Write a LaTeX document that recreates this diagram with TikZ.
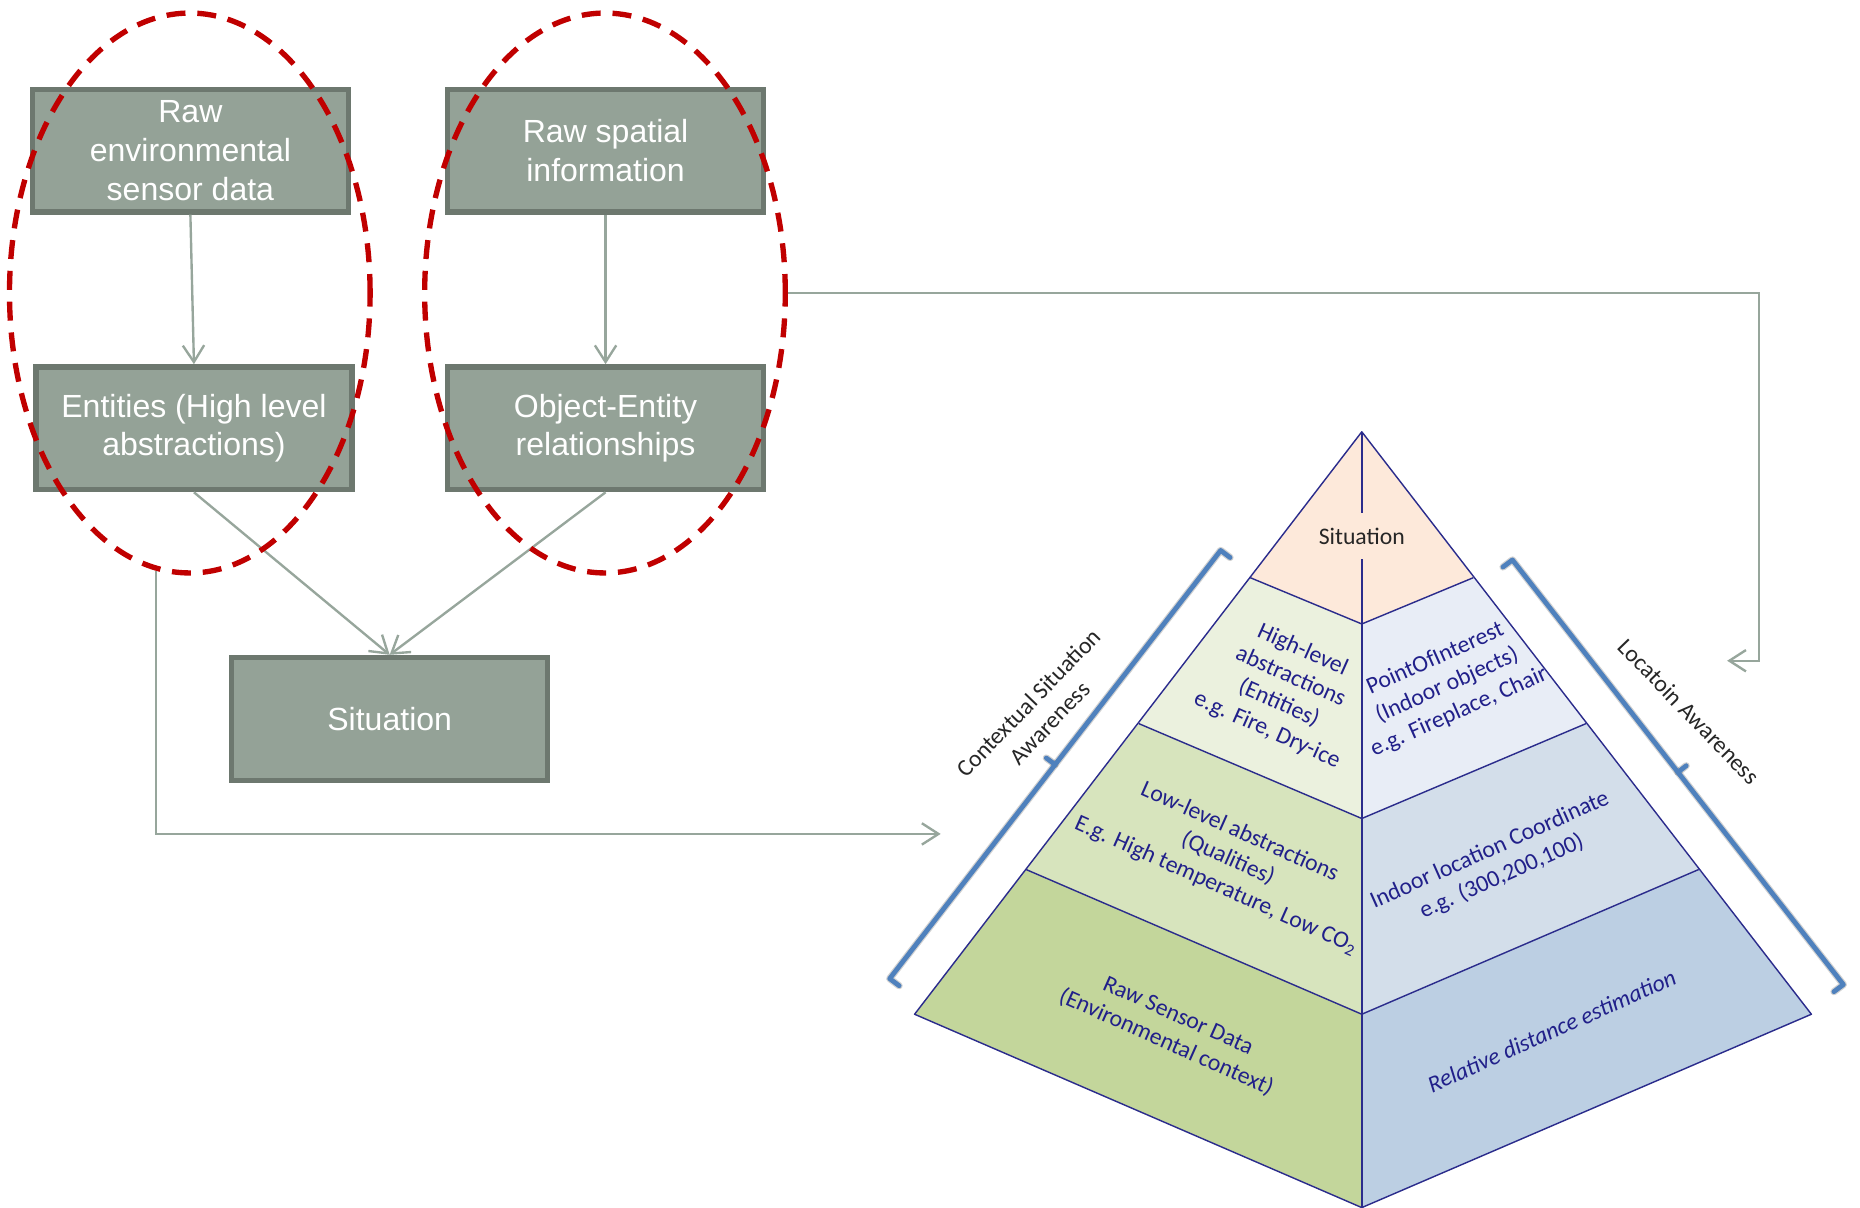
\documentclass[tikz,border=0pt]{standalone}
\usepackage{fontspec}
\setmainfont{Liberation Sans}
\newfontfamily\calfont{Carlito}
\usetikzlibrary{arrows.meta,shapes.geometric}

\definecolor{boxfill}{HTML}{94A297}
\definecolor{boxline}{HTML}{6D786F}
\definecolor{ringred}{HTML}{C00000}
\definecolor{conn}{HTML}{97A69C}
\definecolor{pyredge}{HTML}{2B2C8C}
\definecolor{labelblue}{HTML}{21208A}
\definecolor{braceblue}{HTML}{4F81BD}
\definecolor{topface}{HTML}{FDE9DA}
\definecolor{gA}{HTML}{EBF1DE}
\definecolor{gB}{HTML}{D7E4BD}
\definecolor{gC}{HTML}{C3D69B}
\definecolor{bA}{HTML}{E8EDF6}
\definecolor{bB}{HTML}{D3DEEA}
\definecolor{bC}{HTML}{BCCFE3}

\begin{document}
\begin{tikzpicture}[x=1pt,y=-1pt,
  flowbox/.style={draw=boxline, line width=4.5pt, fill=boxfill, minimum width=266.5pt,
    minimum height=103.5pt, text=white, align=center,
    font=\fontsize{27}{32.5}\selectfont, inner sep=0pt},
  ring/.style={ellipse, draw=ringred, line width=4.5pt, dash pattern=on 16pt off 10pt,
    minimum width=304pt, minimum height=472pt, inner sep=0pt},
  link/.style={draw=conn, line width=2pt,
    -{Straight Barb[length=14pt,width=18pt,line width=2pt]}},
  pyrEdge/.style={draw=pyredge, line width=1.2pt, line join=round},
  facetext/.style={text=labelblue, align=center,
    font=\calfont\fontsize{20}{24.5}\selectfont, inner sep=0pt},
  sidetext/.style={text=black!85, align=center,
    font=\calfont\fontsize{20}{24.5}\selectfont, inner sep=0pt},
  awareBrace/.style={draw=braceblue, line width=4pt, line join=round, line cap=round},
  braceShadow/.style={draw=black, opacity=0.18, line width=6pt, line join=round, line cap=round},
]
\useasboundingbox (0,0) rectangle (1568,1018);

% ---------- pyramid ----------
\coordinate (apex) at (1148,364);
\coordinate (L1) at (1054,487); \coordinate (C1) at (1148,526); \coordinate (R1) at (1242,487);
\coordinate (L2) at (960,610);  \coordinate (C2) at (1148,690); \coordinate (R2) at (1337,610);
\coordinate (L3) at (865,733);  \coordinate (C3) at (1148,855); \coordinate (R3) at (1432,733);
\coordinate (L4) at (771,855);  \coordinate (C4) at (1148,1018); \coordinate (R4) at (1527,855);

\fill[topface] (apex) -- (L1) -- (C1) -- (R1) -- cycle;
\fill[gA] (L1) -- (L2) -- (C2) -- (C1) -- cycle;
\fill[bA] (C1) -- (C2) -- (R2) -- (R1) -- cycle;
\fill[gB] (L2) -- (L3) -- (C3) -- (C2) -- cycle;
\fill[bB] (C2) -- (C3) -- (R3) -- (R2) -- cycle;
\fill[gC] (L3) -- (L4) -- (C4) -- (C3) -- cycle;
\fill[bC] (C3) -- (C4) -- (R4) -- (R3) -- cycle;

\draw[pyrEdge] (apex) -- (L4) -- (C4) -- (R4) -- cycle;
\draw[pyrEdge] (L1) -- (C1) -- (R1);
\draw[pyrEdge] (L2) -- (C2) -- (R2);
\draw[pyrEdge] (L3) -- (C3) -- (R3);
\draw[pyrEdge] (apex) -- (C4);

\node[fill=topface, text=black!85, font=\calfont\fontsize{20}{24}\selectfont,
  minimum height=39pt, inner xsep=6pt] (topTxt) at (1148,452) {Situation};

\node[facetext, rotate=-24] (hiTxt) at (1083,582)
  {High-level\\abstractions\\(Entities)\\e.g. Fire, Dry-ice};
\node[facetext, rotate=24] (poiTxt) at (1220,578)
  {PointOfInterest\\(Indoor objects)\\e.g. Fireplace, Chair};
\node[facetext, rotate=-24] (loTxt) at (1035,724)
  {Low-level abstractions\\(Qualities)\\E.g. High temperature, Low CO\textsubscript{2}};
\node[facetext, rotate=24] (locTxt) at (1261,728)
  {Indoor location Coordinate\\e.g. (300,200,100)};
\node[facetext, rotate=-24] (rawTxt) at (988,868)
  {Raw Sensor Data\\(Environmental context)};
\node[facetext, rotate=24, font=\calfont\itshape\fontsize{20}{24.5}\selectfont] (relTxt)
  at (1308,869) {Relative distance estimation};

% ---------- awareness braces ----------
\coordinate (lbTopHook) at (1037,470); \coordinate (lbTop) at (1029,464);
\coordinate (lbBot) at (750,825);      \coordinate (lbBotHook) at (758,831);
\coordinate (lbMid) at (889.5,644.5);  \coordinate (lbTick) at (882,639);
\coordinate (rbTopHook) at (1267,478); \coordinate (rbTop) at (1275,472);
\coordinate (rbBot) at (1554,830);     \coordinate (rbBotHook) at (1546,836);
\coordinate (rbMid) at (1414.5,651);   \coordinate (rbTick) at (1421.5,645.5);

\begin{scope}[shift={(2,3)}]
  \draw[braceShadow] (lbTopHook) -- (lbTop) -- (lbBot) -- (lbBotHook);
  \draw[braceShadow] (lbMid) -- (lbTick);
  \draw[braceShadow] (rbTopHook) -- (rbTop) -- (rbBot) -- (rbBotHook);
  \draw[braceShadow] (rbMid) -- (rbTick);
\end{scope}
\draw[awareBrace] (lbTopHook) -- (lbTop) -- (lbBot) -- (lbBotHook);
\draw[awareBrace] (lbMid) -- (lbTick);
\draw[awareBrace] (rbTopHook) -- (rbTop) -- (rbBot) -- (rbBotHook);
\draw[awareBrace] (rbMid) -- (rbTick);

\node[sidetext, rotate=46] (csaTxt) at (876,601) {Contextual Situation\\Awareness};
\node[sidetext, rotate=-46] (laTxt) at (1424,600) {Locatoin Awareness};

% ---------- flow boxes ----------
\node[flowbox] (raw) at (160.5,127) {Raw\\environmental\\sensor data};
\node[flowbox] (spatial) at (510.5,127) {Raw spatial\\information};
\node[flowbox] (entities) at (163.5,361) {Entities (High level\\abstractions)};
\node[flowbox] (objrel) at (510.5,361) {Object-Entity\\relationships};
\node[flowbox] (sit) at (328.5,606) {Situation};

\draw[link] (raw.south) -- (entities.north);
\draw[link] (spatial.south) -- (objrel.north);
\draw[link] (entities.south) -- (sit.north);
\draw[link] (objrel.south) -- (sit.north);

% ---------- grouping rings ----------
\node[ring] (ringL) at (160,247) {};
\node[ring] (ringR) at (510,247) {};

% ---------- links into the pyramid ----------
\coordinate (csaIn) at (793,703);
\coordinate (laBend) at (1483,247);
\coordinate (laIn) at (1456,557);
\draw[link] (ringL.263) |- (csaIn);
\draw[link] (ringR.east) -- (laBend) |- (laIn);
\end{tikzpicture}
\end{document}
